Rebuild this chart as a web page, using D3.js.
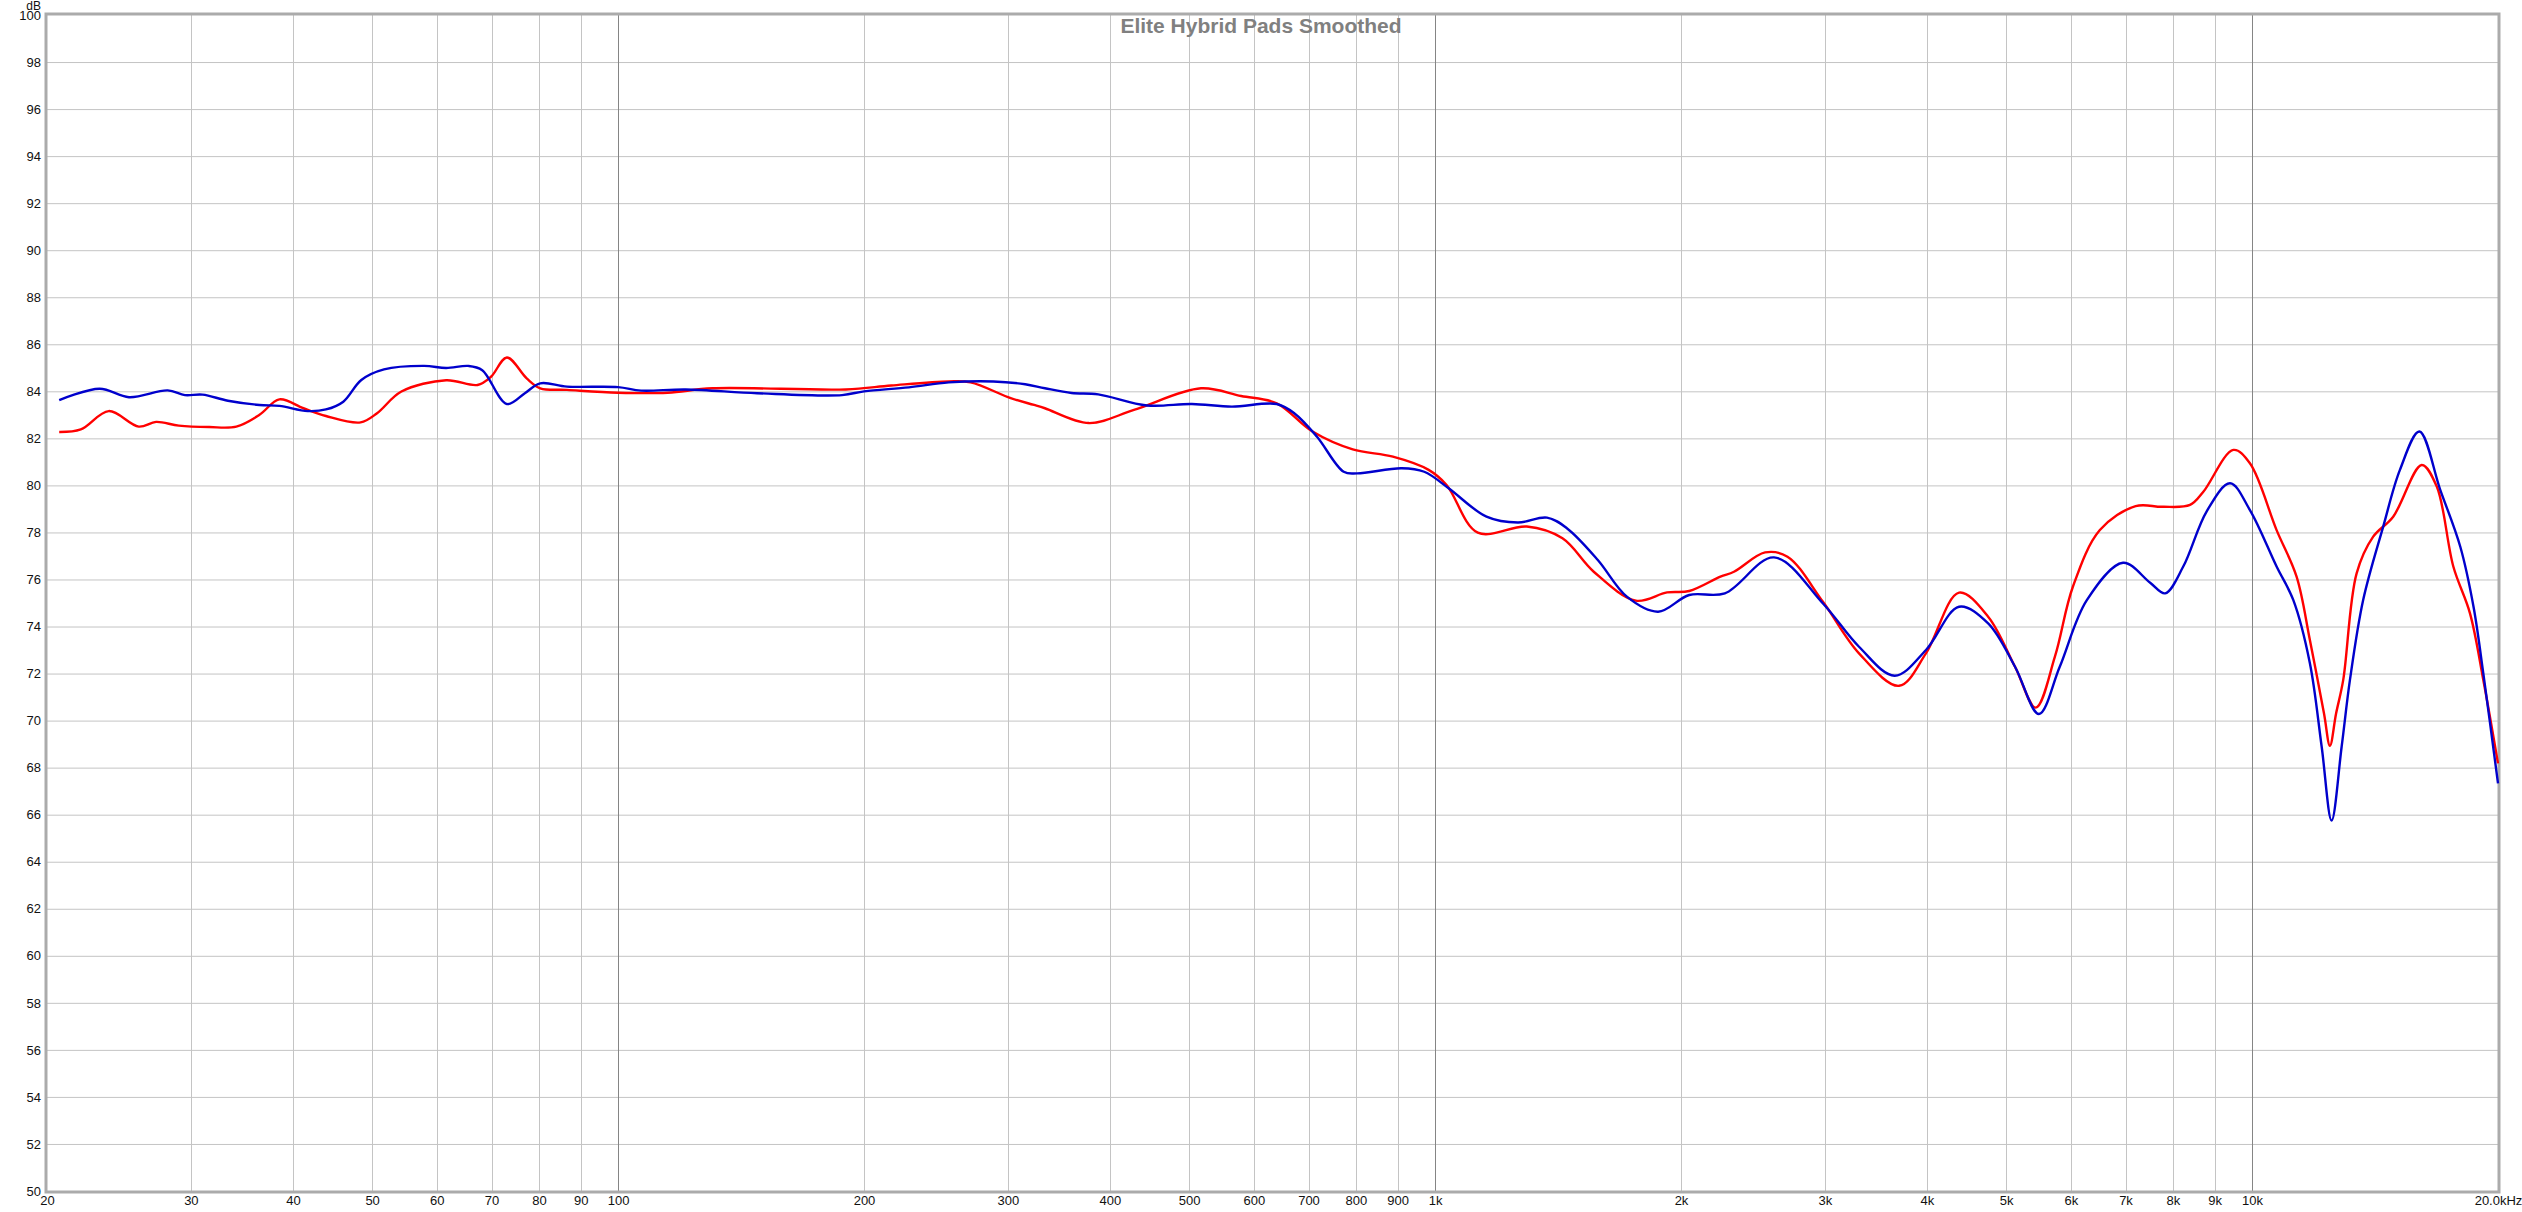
<!DOCTYPE html>
<html><head><meta charset="utf-8">
<script src="https://cdn.jsdelivr.net/npm/d3@7"></script>
<style>body{margin:0;background:#fff;overflow:hidden}svg{display:block}</style>
</head><body>
<script>
const chartTitle = "Elite Hybrid Pads Smoothed";
const yUnit = "dB";
const xTickValues = [20,30,40,50,60,70,80,90,100,200,300,400,500,600,700,800,900,1000,2000,3000,4000,5000,6000,7000,8000,9000,10000,20000];
const xTickLabels = ["20","30","40","50","60","70","80","90","100","200","300","400","500","600","700","800","900","1k","2k","3k","4k","5k","6k","7k","8k","9k","10k","20.0kHz"];
const decadeLines = [100,1000,10000];
const yTickValues = d3.range(50,101,2);

const blueFreq = [20.7,23.2,25.2,28.1,29.5,31.0,33.3,36.4,38.5,41.7,43.9,46.1,48.5,51.7,57.9,61.6,65.6,68.2,73.1,76.9,80.3,86.6,100,106.7,121,148,188,200,227,254,288,315,333,359,387,444,504,564,640,673,717,773,803,910,970,1039,1156,1263,1371,1451,1582,1717,1875,2047,2263,2599,2984,3303,3652,3989,4379,4753,5127,5484,5816,6277,6952,7504,7826,8237,8800,9398,9940,10716,11231,11770,12167,12512,12873,13177,13677,14472,15170,16023,17000,17984,18667,19189,20000];
const blueDb = [83.63,84.11,83.75,84.04,83.84,83.86,83.60,83.42,83.38,83.16,83.23,83.56,84.48,84.93,85.08,84.99,85.08,84.90,83.46,83.92,84.34,84.20,84.18,84.03,84.08,83.92,83.84,84.00,84.17,84.38,84.42,84.30,84.13,83.93,83.87,83.40,83.46,83.35,83.46,83.06,82.07,80.58,80.51,80.73,80.58,79.88,78.67,78.42,78.63,78.17,76.83,75.27,74.63,75.34,75.41,76.94,74.98,73.14,71.91,73.00,74.84,74.13,72.29,70.28,72.29,75.12,76.71,75.86,75.41,76.55,78.90,80.09,78.95,76.55,75.13,72.44,68.90,65.75,68.90,71.73,75.13,78.25,80.66,82.29,79.80,77.39,74.84,72.01,67.33];

const redFreq = [20.7,22.0,23.8,25.9,27.2,29.0,31.6,34.1,36.4,38.5,41.2,43.9,48.4,50.7,54.3,61.6,67.3,69.9,73.1,77.3,80.3,86.6,100,115,130.5,190,216,254,270,303,323,333,377,428,517,579,640,708,793,888,982,1033,1128,1295,1432,1564,1761,1923,2047,2235,2322,2535,2700,2984,3303,3698,3989,4379,4753,5127,5436,5737,6035,6512,7203,7766,8395,8717,9487,9940,10716,11337,11770,12248,12454,12672,12930,13427,14069,14885,16131,16830,17634,18482,19189,20000];
const redDb = [82.27,82.38,83.16,82.50,82.70,82.54,82.48,82.50,83.00,83.66,83.28,82.95,82.68,83.07,83.99,84.47,84.27,84.62,85.44,84.55,84.13,84.06,83.94,83.94,84.13,84.08,84.25,84.42,84.38,83.70,83.42,83.28,82.65,83.21,84.13,83.80,83.49,82.29,81.53,81.22,80.66,80.02,77.99,78.25,77.75,76.33,75.10,75.45,75.51,76.12,76.33,77.15,76.97,75.05,72.86,71.48,72.86,75.44,74.42,72.29,70.55,72.72,75.69,78.10,79.12,79.09,79.17,79.73,81.51,80.94,78.10,76.12,73.43,70.30,68.93,70.30,71.73,76.26,77.82,78.67,80.87,79.95,76.55,74.56,71.73,68.18];

const W = 2522, H = 1212;
const L = 47, R = 2498, T = 15, B = 1191;

const svg = d3.select("body").append("svg").attr("width", W).attr("height", H)
  .style("font-family", "'Liberation Sans', Arial, sans-serif");
svg.append("rect").attr("width", W).attr("height", H).attr("fill", "#fff");

const x = d3.scaleLog().domain([20, 20000]).range([L, R]);
const y = d3.scaleLinear().domain([50, 100]).range([B, T]);

// horizontal grid
svg.append("g").selectAll("line").data(yTickValues.filter(v => v > 50 && v < 100)).join("line")
  .attr("x1", L).attr("x2", R).attr("y1", d => y(d) + 0.5).attr("y2", d => y(d) + 0.5)
  .attr("stroke", "#c4c4c4").attr("stroke-width", 1);
// vertical grid
svg.append("g").selectAll("line").data(xTickValues.filter(f => f > 20 && f < 20000)).join("line")
  .attr("x1", d => Math.round(x(d)) + 0.5).attr("x2", d => Math.round(x(d)) + 0.5)
  .attr("y1", T).attr("y2", B)
  .attr("stroke", d => decadeLines.includes(d) ? "#858585" : "#c4c4c4").attr("stroke-width", 1);

// border
svg.append("rect").attr("x", L - 1).attr("y", T - 1).attr("width", R - L + 2).attr("height", B - T + 2)
  .attr("fill", "none").attr("stroke", "#ababab").attr("stroke-width", 3);

// axes labels
const yAxis = d3.axisLeft(y).tickValues(yTickValues).tickSize(0).tickPadding(6).tickFormat(d3.format("d"));
const gy = svg.append("g").attr("transform", `translate(${L},0)`).call(yAxis);
gy.select(".domain").remove();
gy.selectAll("text").attr("font-size", 13).attr("fill", "#111").attr("font-family", "'Liberation Sans', Arial, sans-serif");

const xAxis = d3.axisBottom(x).tickValues(xTickValues).tickSize(0).tickPadding(5)
  .tickFormat((d, i) => xTickLabels[i]);
const gx = svg.append("g").attr("transform", `translate(0,${B})`).call(xAxis);
gx.select(".domain").remove();
gx.selectAll("text").attr("font-size", 13).attr("fill", "#111").attr("font-family", "'Liberation Sans', Arial, sans-serif");

svg.append("text").attr("x", L - 6).attr("y", 10).attr("text-anchor", "end")
  .attr("font-size", 12).attr("fill", "#111").text(yUnit);

svg.append("text").attr("x", 1261).attr("y", 33).attr("text-anchor", "middle")
  .attr("font-size", 21).attr("font-weight", "bold").attr("fill", "#808080").text(chartTitle);

const line = d3.line().x(d => x(d[0])).y(d => y(d[1])).curve(d3.curveCatmullRom.alpha(0.5));
const red = redFreq.map((f, i) => [f, redDb[i]]);
const blue = blueFreq.map((f, i) => [f, blueDb[i]]);
svg.append("path").datum(red).attr("d", line).attr("fill", "none").attr("stroke", "#ff0000").attr("stroke-width", 2.4);
svg.append("path").datum(blue).attr("d", line).attr("fill", "none").attr("stroke", "#0000cc").attr("stroke-width", 2.4);
</script>
</body></html>
